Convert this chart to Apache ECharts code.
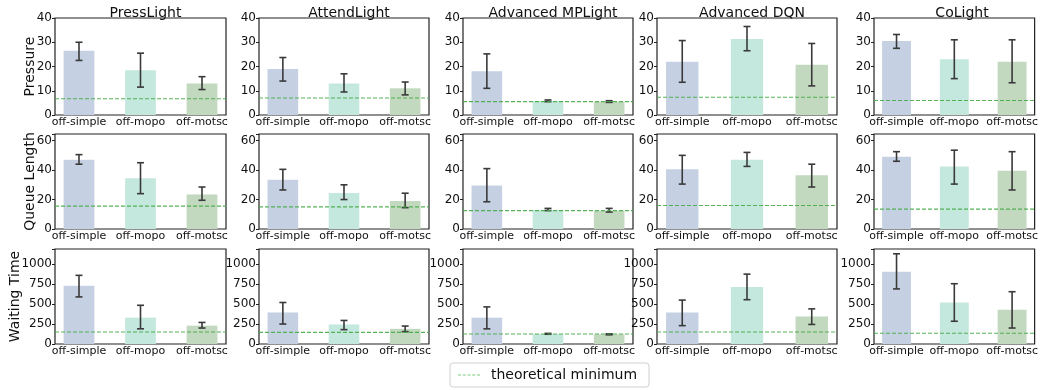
<!DOCTYPE html>
<html>
<head>
<meta charset="utf-8">
<script src="https://cdn.jsdelivr.net/npm/echarts@6/dist/echarts.min.js"></script>
<style>html,body{margin:0;padding:0;background:#fff}#c{width:1041px;height:390px}</style>
</head>
<body>
<div id="c"></div>
<script>
const categories = ['off-simple', 'off-mopo', 'off-motsc'];
const methods = ['PressLight', 'AttendLight', 'Advanced MPLight', 'Advanced DQN', 'CoLight'];
const metrics = ['Pressure', 'Queue Length', 'Waiting Time'];

// Pressure
const pressureMean = [[26.5, 18.5, 13], [19, 13, 11], [18, 5.8, 5.5], [22, 31.3, 20.7], [30.5, 23, 22]];
const pressureLow  = [[22.5, 11.5, 10.5], [14, 9.5, 8.3], [11, 5.5, 5.2], [13.5, 26.5, 12], [27.5, 15, 13.3]];
const pressureHigh = [[30, 25.5, 15.8], [23.7, 17, 13.6], [25.2, 6.2, 5.9], [30.7, 36.5, 29.5], [33.2, 31, 31]];
const pressureMin  = [6.7, 7, 5.5, 7.3, 6];

// Queue Length
const queueMean = [[47, 34.5, 23.5], [33.5, 24.5, 19], [29.5, 13, 12.5], [40.5, 47, 36.5], [49, 42.5, 39.5]];
const queueLow  = [[44, 24, 19.5], [26.5, 20, 14.5], [18.5, 12.5, 11.5], [30.5, 42.5, 28.5], [46, 30.5, 26.5]];
const queueHigh = [[50.5, 45, 28.5], [40.5, 30, 24.3], [41, 14, 14], [50, 52, 44], [52.5, 53.5, 52.5]];
const queueMin  = [15.5, 15, 12.5, 16, 13.5];

// Waiting Time
const waitMean = [[730, 330, 230], [395, 245, 190], [330, 125, 122], [395, 715, 345], [905, 520, 430]];
const waitLow  = [[590, 190, 200], [250, 180, 155], [190, 122, 115], [230, 555, 245], [690, 285, 200]];
const waitHigh = [[860, 485, 270], [520, 295, 225], [465, 133, 128], [550, 875, 440], [1130, 755, 655]];
const waitMin  = [150, 145, 125, 150, 135];

const yMax = [40, 64.5, 1190];
const yInterval = [10, 20, 250];

const rowsData = [
  [pressureMean, pressureLow, pressureHigh, pressureMin],
  [queueMean, queueLow, queueHigh, queueMin],
  [waitMean, waitLow, waitHigh, waitMin]
];

const colLeft = [55, 259, 463, 657, 874];
const colWidth = [171, 170, 170, 180, 166];
const rowTop = [18, 134, 249];
const rowHeight = [97, 95, 95];
const nameGaps = [18, 18, 33];
const barColors = ['#c5d1e3', '#c4e8de', '#c2d8bf'];
const minColor = '#45ab45';

const grids = [], xAxes = [], yAxes = [], series = [], titles = [];
let idx = 0;
for (let r = 0; r < 3; r++) {
  for (let c = 0; c < 5; c++) {
    grids.push({left: colLeft[c], top: rowTop[r], width: colWidth[c], height: rowHeight[r],
      show: true, borderColor: '#222', borderWidth: 1.2, containLabel: false});
    xAxes.push({type: 'value', gridIndex: idx, min: -0.39, max: 2.39,
      axisLine: {show: false, onZero: false}, axisTick: {show: false}, splitLine: {show: false},
      axisLabel: {customValues: [0, 1, 2], formatter: v => categories[Math.round(v)],
        fontSize: 11, color: '#111', margin: 2, fontFamily: 'DejaVu Sans'}});
    const itv = yInterval[r];
    yAxes.push({type: 'value', gridIndex: idx, min: 0, max: yMax[r], interval: itv,
      name: c === 0 ? metrics[r] : '', nameLocation: 'middle', nameGap: nameGaps[r],
      nameMoveOverlap: false,
      nameTextStyle: {fontSize: 14, color: '#111', fontFamily: 'DejaVu Sans'},
      axisLine: {show: false, onZero: false}, splitLine: {show: false},
      axisTick: {show: true, length: 3, lineStyle: {color: '#222'}},
      axisLabel: {fontSize: 12, color: '#111', margin: 3, fontFamily: 'DejaVu Sans',
        formatter: v => (Math.abs(v / itv - Math.round(v / itv)) < 1e-6 ? String(v) : '')}});
    const [m, lo, hi, mn] = rowsData[r];
    const data = categories.map((cat, k) => [k, m[c][k], lo[c][k], hi[c][k]]);
    series.push({
      type: 'custom', xAxisIndex: idx, yAxisIndex: idx, data: data, silent: true,
      renderItem: function (params, api) {
        const k = api.value(0);
        const p0 = api.coord([k - 0.25, api.value(1)]);
        const p1 = api.coord([k + 0.25, 0]);
        const pl = api.coord([k, api.value(2)]);
        const ph = api.coord([k, api.value(3)]);
        const cw = 3.5;
        const es = {stroke: '#3a3a3a', lineWidth: 1.6};
        return {type: 'group', children: [
          {type: 'rect', shape: {x: p0[0], y: p0[1], width: p1[0] - p0[0], height: p1[1] - p0[1]},
            style: {fill: barColors[k]}},
          {type: 'line', shape: {x1: pl[0], y1: pl[1], x2: ph[0], y2: ph[1]}, style: es},
          {type: 'line', shape: {x1: pl[0] - cw, y1: pl[1], x2: pl[0] + cw, y2: pl[1]}, style: es},
          {type: 'line', shape: {x1: ph[0] - cw, y1: ph[1], x2: ph[0] + cw, y2: ph[1]}, style: es}
        ]};
      }
    });
    series.push({
      type: 'line', name: 'theoretical minimum', xAxisIndex: idx, yAxisIndex: idx,
      data: [[-0.39, mn[c]], [2.39, mn[c]]], symbol: 'none', silent: true, z: 5,
      lineStyle: {color: minColor, width: 1.1, type: [4, 2], opacity: 0.9},
      itemStyle: {color: minColor}
    });
    idx++;
  }
}
for (let c = 0; c < 5; c++) {
  titles.push({text: methods[c], left: colLeft[c] + colWidth[c] / 2, top: 1, textAlign: 'center',
    textStyle: {fontSize: 14, fontWeight: 'normal', color: '#111', fontFamily: 'DejaVu Sans'}});
}

const chart = echarts.init(document.getElementById('c'), null, {renderer: 'canvas'});
chart.setOption({
  animation: false,
  backgroundColor: '#fff',
  title: titles,
  grid: grids,
  xAxis: xAxes,
  yAxis: yAxes,
  legend: {data: [{name: 'theoretical minimum',
      icon: 'path://M0,0h3v1h-3z M4.8,0h3v1h-3z M9.6,0h3v1h-3z M14.4,0h3v1h-3z M19.2,0h3v1h-3z',
      itemStyle: {color: '#7ccc7c'}}],
    left: 450, top: 363, padding: [5, 12, 5, 8],
    borderColor: '#d0d0d0', borderWidth: 1, borderRadius: 3, itemWidth: 22, itemHeight: 1.2, itemGap: 10,
    textStyle: {fontSize: 14, color: '#111', fontFamily: 'DejaVu Sans', padding: [0, 0, 0, 6]}},
  series: series
});
</script>
</body>
</html>
